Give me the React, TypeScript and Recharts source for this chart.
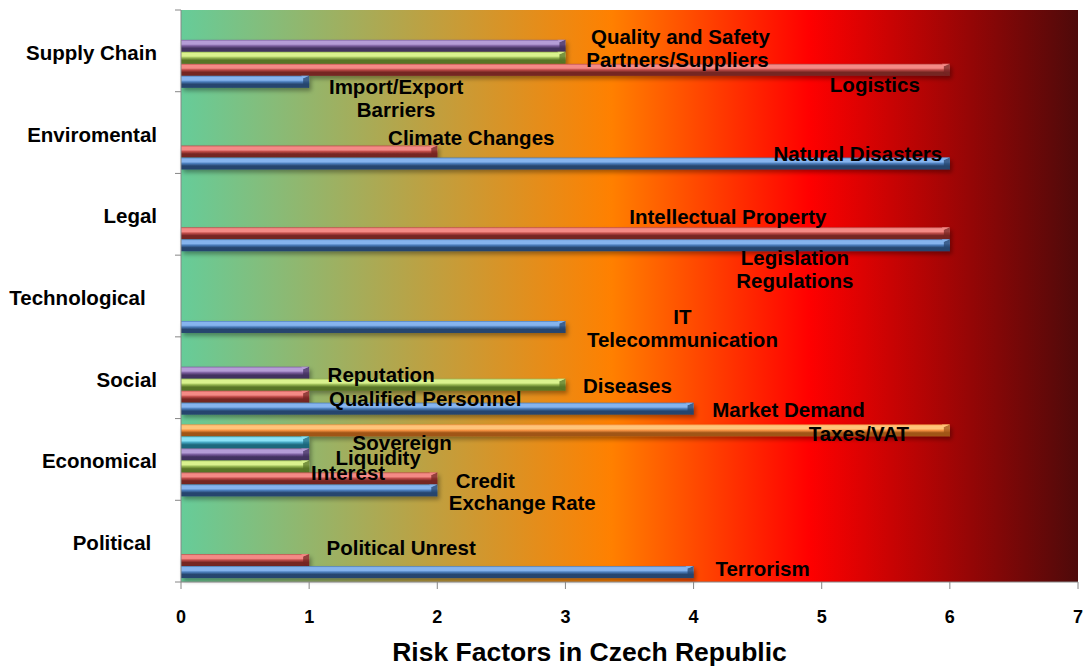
import React from 'react';
import { BarChart, Bar, XAxis, YAxis, CartesianGrid, LabelList, Label } from 'recharts';

// ---------- data ----------
const categories = ['Supply Chain', 'Enviromental', 'Legal', 'Technological  ', 'Social', 'Economical', 'Political '];

const blueValues = [1, 6, 6, 3, 4, 2, 4];
const blueLabels = ['Import/Export\nBarriers', 'Natural Disasters', 'Legislation\nRegulations', 'IT\nTelecommunication', 'Market Demand', 'Exchange Rate', 'Terrorism'];

const redValues = [6, 2, 6, null, 1, 2, 1];
const redLabels = ['Logistics', 'Climate Changes', 'Intellectual Property', '', 'Qualified Personnel', 'Credit', 'Political Unrest'];

const greenValues = [3, null, null, null, 3, 1, null];
const greenLabels = ['Partners/Suppliers', '', '', '', 'Diseases', 'Interest', ''];

const purpleValues = [3, null, null, null, 1, 1, null];
const purpleLabels = ['Quality and Safety', '', '', '', 'Reputation', 'Liquidity', ''];

const cyanValues = [null, null, null, null, null, 1, null];
const cyanLabels = ['', '', '', '', '', 'Sovereign', ''];

const orangeValues = [null, null, null, null, null, 6, null];
const orangeLabels = ['', '', '', '', '', 'Taxes/VAT', ''];

const xTicks = [0, 1, 2, 3, 4, 5, 6, 7];
const xAxisTitle = 'Risk Factors in Czech Republic';

// ---------- table built from the arrays ----------
const data = categories.map((name, i) => ({
  name,
  blue: blueValues[i], blueLabel: blueLabels[i],
  red: redValues[i], redLabel: redLabels[i],
  green: greenValues[i], greenLabel: greenLabels[i],
  purple: purpleValues[i], purpleLabel: purpleLabels[i],
  cyan: cyanValues[i], cyanLabel: cyanLabels[i],
  orange: orangeValues[i], orangeLabel: orangeLabels[i],
}));

// ---------- styles ----------
const FONT = '"Liberation Sans", Arial, sans-serif';
const AXIS_GRAY = '#868686';
const Y_TICK_SIZE = 6;
const Y_TICK_MARGIN = 18;

const palette: Record<string, { light: string; base: string; dark: string }> = {
  blue: { light: '#86B4EE', base: '#4A7CBA', dark: '#26456E' },
  red: { light: '#F48A86', base: '#BE4B48', dark: '#752523' },
  green: { light: '#DAF28E', base: '#98B853', dark: '#587425' },
  purple: { light: '#B59DD6', base: '#7C5F9F', dark: '#43315F' },
  cyan: { light: '#8AE2F6', base: '#46A8C3', dark: '#1D677C' },
  orange: { light: '#FFC47A', base: '#F49140', dark: '#A05518' },
};

// label placement: [dx from bar end to text centre, dy from bar centre]
const labelOffsets: Record<string, [number, number]> = {
  'Quality and Safety': [115, -9],
  'Partners/Suppliers': [112, 2],
  'Logistics': [-75, 15],
  'Import/Export\nBarriers': [87, 16.5],
  'Climate Changes': [34, -14],
  'Natural Disasters': [-92, -10],
  'Intellectual Property': [-222, -17],
  'Legislation\nRegulations': [-155, 24],
  'IT\nTelecommunication': [117, 1],
  'Reputation': [72, 2],
  'Diseases': [62, 1],
  'Qualified Personnel': [116, 2],
  'Market Demand': [95, 1],
  'Taxes/VAT': [-91, 3],
  'Sovereign': [93, 0],
  'Liquidity': [69, 3],
  'Interest': [39, 6],
  'Credit': [48, 2],
  'Exchange Rate': [85, 12],
  'Political Unrest': [92, -13],
  'Terrorism': [69, -4],
};

const LINE_H = 23;

const renderLabel = (props: any) => {
  const { x, y, width, height, value } = props;
  if (!value || typeof value !== 'string') return null;
  if (![x, y, width, height].every((v) => typeof v === 'number' && isFinite(v))) return null;
  const off = labelOffsets[value] || [20, 0];
  const cx = x + width + off[0];
  const cy = y + height / 2 + off[1];
  const lines = value.split('\n');
  const startY = cy - ((lines.length - 1) * LINE_H) / 2;
  return (
    <g>
      {lines.map((ln, i) => (
        <text
          key={i}
          x={cx}
          y={startY + i * LINE_H}
          textAnchor="middle"
          dominantBaseline="central"
          fontFamily={FONT}
          fontWeight="bold"
          fontSize={20.5}
          fill="#000"
        >
          {ln}
        </text>
      ))}
    </g>
  );
};

const makeShape = (key: string) => (props: any) => {
  const { x, y, width, height } = props;
  if (!width || width <= 0 || !height || height <= 0) return <g />;
  const c = palette[key];
  const b = Math.min(6, width / 2);
  return (
    <g filter="url(#barShadow)">
      <rect x={x} y={y} width={width} height={height} fill={`url(#grad-${key})`} />
      <polygon
        points={`${x + width - b},${y + 2.5} ${x + width},${y} ${x + width},${y + height} ${x + width - b},${y + height - 2.5}`}
        fill={c.dark}
        opacity={0.75}
      />
      <polygon
        points={`${x + width - b},${y + 2.5} ${x + width},${y} ${x + width - b - 2},${y}`}
        fill={c.light}
        opacity={0.8}
      />
    </g>
  );
};

// category tick: label at band centre plus Excel-style tick marks on band boundaries
const CatTick = (props: any) => {
  const { x, y, payload, index, visibleTicksCount, height } = props;
  const axisX = x + Y_TICK_SIZE + Y_TICK_MARGIN;
  const n = Number(visibleTicksCount);
  const band = Number(height) / n;
  const ok = isFinite(band) && band > 0;
  return (
    <g>
      {ok && (
        <line x1={axisX - Y_TICK_SIZE} x2={axisX} y1={y - band / 2} y2={y - band / 2} stroke={AXIS_GRAY} />
      )}
      {ok && index === n - 1 && (
        <line x1={axisX - Y_TICK_SIZE} x2={axisX} y1={y + band / 2} y2={y + band / 2} stroke={AXIS_GRAY} />
      )}
      <text
        x={x}
        y={y + 1.5}
        textAnchor="end"
        dominantBaseline="central"
        fontFamily={FONT}
        fontWeight="bold"
        fontSize={20.5}
        fill="#000"
        style={{ whiteSpace: 'pre' }}
      >
        {payload.value}
      </text>
    </g>
  );
};

const seriesOrder = ['orange', 'cyan', 'purple', 'green', 'red', 'blue'];

export default function App() {
  return (
    <div style={{ position: 'absolute', left: 0, top: 0 }}>
      <BarChart
        width={1088}
        height={666}
        data={data}
        layout="vertical"
        margin={{ top: 10, right: 10, bottom: 0, left: 0 }}
        barCategoryGap="7.14%"
        barGap={0}
      >
        <defs>
          <linearGradient id="bgGrad" x1="0" y1="0" x2="1" y2="0">
            <stop offset="0%" stopColor="#66CC99" />
            <stop offset="48%" stopColor="#FF8000" />
            <stop offset="70%" stopColor="#FF0000" />
            <stop offset="100%" stopColor="#4E0A0A" />
          </linearGradient>
          {Object.keys(palette).map((k) => (
            <linearGradient key={k} id={`grad-${k}`} x1="0" y1="0" x2="0" y2="1">
              <stop offset="0%" stopColor={palette[k].base} />
              <stop offset="12%" stopColor={palette[k].light} />
              <stop offset="36%" stopColor={palette[k].light} />
              <stop offset="50%" stopColor={palette[k].base} />
              <stop offset="70%" stopColor={palette[k].dark} />
              <stop offset="100%" stopColor={palette[k].dark} />
            </linearGradient>
          ))}
          <filter id="barShadow" x="-5%" y="-50%" width="110%" height="220%">
            <feDropShadow dx="2" dy="3" stdDeviation="2" floodColor="#000" floodOpacity="0.35" />
          </filter>
        </defs>
        <CartesianGrid horizontal={false} vertical={false} stroke="none" fill="url(#bgGrad)" />
        <XAxis
          type="number"
          domain={[0, 7]}
          ticks={xTicks}
          interval={0}
          height={84}
          axisLine={{ stroke: AXIS_GRAY }}
          tickLine={{ stroke: AXIS_GRAY }}
          tickSize={7}
          tickMargin={21}
          tick={{ fontFamily: FONT, fontWeight: 'bold', fontSize: 18, fill: '#000' }}
        >
          <Label
            content={(p: any) => {
              const vb = p.viewBox || { x: 181, y: 582, width: 897, height: 84 };
              return (
                <text
                  x={vb.x + vb.width / 2 - 40}
                  y={vb.y + 70}
                  textAnchor="middle"
                  dominantBaseline="central"
                  fontFamily={FONT}
                  fontWeight="bold"
                  fontSize={26.5}
                  fill="#000"
                >
                  {xAxisTitle}
                </text>
              );
            }}
          />
        </XAxis>
        <YAxis
          type="category"
          dataKey="name"
          width={181}
          interval={0}
          axisLine={{ stroke: AXIS_GRAY }}
          tickLine={false}
          tickSize={Y_TICK_SIZE}
          tickMargin={Y_TICK_MARGIN}
          tick={<CatTick />}
        />
        {seriesOrder.map((k) => (
          <Bar
            key={k}
            dataKey={k}
            fill={palette[k].base}
            isAnimationActive={false}
            shape={makeShape(k)}
          >
            <LabelList dataKey={`${k}Label`} content={renderLabel} />
          </Bar>
        ))}
      </BarChart>
    </div>
  );
}
